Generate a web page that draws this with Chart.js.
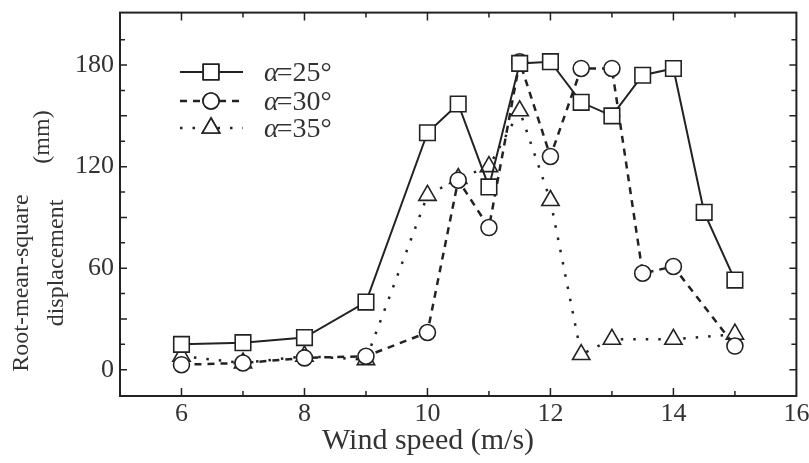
<!DOCTYPE html>
<html>
<head>
<meta charset="utf-8">
<script src="https://cdn.jsdelivr.net/npm/chart.js@4/dist/chart.umd.min.js"></script>
<style>
html, body { margin: 0; padding: 0; background: #fff; }
#wrap { width: 809px; height: 463px; }
</style>
</head>
<body>
<div id="wrap"><canvas id="chart" width="809" height="463"></canvas></div>
<script>
// values
var speed25 = [6, 7, 8, 9, 10, 10.5, 11, 11.5, 12, 12.5, 13, 13.5, 14, 14.5, 15];
var disp25  = [15, 16, 19, 40, 140, 157, 108, 181, 182, 158, 150, 174, 178, 93, 53];

var speed30 = [6, 7, 8, 9, 10, 10.5, 11, 11.5, 12, 12.5, 13, 13.5, 14, 15];
var disp30  = [3, 4, 7, 8, 22, 112, 84, 182, 126, 178, 178, 57, 61, 14];

var speed35 = [6, 7, 8, 9, 10, 10.5, 11, 11.5, 12, 12.5, 13, 14, 15];
var disp35  = [8, 4, 8, 6, 103, 113, 120, 153, 100, 9, 18, 18, 21];

var xTicks = [6, 8, 10, 12, 14, 16];
var yTicks = [0, 60, 120, 180];
var legendLabels = ["=25°", "=30°", "=35°"];

var ink = "#222";
var serif = "'Liberation Serif', 'DejaVu Serif', serif";

function pairs(xs, ys) {
	return xs.map(function(x, i) { return { x: x, y: ys[i] }; });
}

// frame, inward ticks, legend and the axis titles
var decor = {
	id: "decor",
	afterDraw: function(chart) {
		var ctx = chart.ctx;
		var a = chart.chartArea;
		var xs = chart.scales.x, ys = chart.scales.y;
		ctx.save();
		ctx.strokeStyle = ink;
		ctx.lineWidth = 2;
		ctx.strokeRect(a.left, a.top, a.right - a.left, a.bottom - a.top);

		ctx.lineWidth = 1.5;
		for (var v = 6; v <= 15; v++) {
			var px = xs.getPixelForValue(v);
			var len = (v % 2 == 0) ? 8 : 5;
			ctx.beginPath();
			ctx.moveTo(px, a.bottom); ctx.lineTo(px, a.bottom - len);
			ctx.moveTo(px, a.top); ctx.lineTo(px, a.top + len);
			ctx.stroke();
		}
		for (var w = 0; w <= 195; w += 15) {
			var py = ys.getPixelForValue(w);
			var l2 = (w % 30 == 0) ? 7 : 5;
			ctx.beginPath();
			ctx.moveTo(a.left, py); ctx.lineTo(a.left + l2, py);
			ctx.moveTo(a.right, py); ctx.lineTo(a.right - l2, py);
			ctx.stroke();
		}

		// legend
		var rows = [72, 101, 128];
		chart.data.datasets.forEach(function(ds, i) {
			var y = rows[i];
			ctx.strokeStyle = ink;
			ctx.lineWidth = ds.borderWidth;
			ctx.setLineDash(ds.borderDash || []);
			ctx.beginPath();
			ctx.moveTo(180, y); ctx.lineTo(243, y);
			ctx.stroke();
			ctx.setLineDash([]);
			ctx.fillStyle = "#fff";
			ctx.lineWidth = ds.pointBorderWidth;
			Chart.helpers.drawPoint(ctx, { pointStyle: ds.pointStyle, radius: ds.pointRadius, rotation: 0, borderWidth: ds.pointBorderWidth }, 211, y);
			ctx.fill();
			ctx.stroke();

			ctx.fillStyle = "#333";
			ctx.textBaseline = "middle";
			ctx.textAlign = "left";
			ctx.font = "italic 28px " + serif;
			ctx.fillText("α", 264, y + 2);
			var aw = ctx.measureText("α").width;
			ctx.font = "28px " + serif;
			ctx.fillText(legendLabels[i], 264 + aw - 2, y + 2);
		});

		// x title
		ctx.fillStyle = "#333";
		ctx.textAlign = "center";
		ctx.textBaseline = "middle";
		ctx.font = "30px " + serif;
		ctx.fillText("Wind speed (m/s)", 428, 441);

		// y title
		ctx.font = "24px " + serif;
		[["Root-mean-square", 22, 283], ["displacement", 57, 263], ["(mm)", 43, 137]].forEach(function(t) {
			ctx.save();
			ctx.translate(t[1], t[2]);
			ctx.rotate(-Math.PI / 2);
			ctx.fillText(t[0], 0, 0);
			ctx.restore();
		});
		ctx.restore();
	}
};

var chart = new Chart(document.getElementById("chart"), {
	type: "line",
	data: {
		datasets: [
			{
				data: pairs(speed25, disp25),
				borderColor: ink,
				borderWidth: 2,
				pointStyle: "rect",
				pointRadius: 11,
				pointBorderWidth: 1.6,
				pointBorderColor: ink,
				pointBackgroundColor: "#fff"
			},
			{
				data: pairs(speed30, disp30),
				borderColor: ink,
				borderWidth: 2.5,
				borderDash: [7, 6],
				pointStyle: "circle",
				pointRadius: 8,
				pointBorderWidth: 1.6,
				pointBorderColor: ink,
				pointBackgroundColor: "#fff"
			},
			{
				data: pairs(speed35, disp35),
				borderColor: ink,
				borderWidth: 2.5,
				borderDash: [2.5, 10],
				pointStyle: "triangle",
				pointRadius: 10,
				pointBorderWidth: 1.6,
				pointBorderColor: ink,
				pointBackgroundColor: "#fff"
			}
		]
	},
	options: {
		responsive: false,
		animation: false,
		layout: { padding: { top: 9, right: 10, left: 0, bottom: 0 } },
		plugins: {
			legend: { display: false },
			tooltip: { enabled: false }
		},
		scales: {
			x: {
				type: "linear",
				min: 5,
				max: 16,
				grid: { display: false, drawTicks: false },
				border: { display: false },
				afterBuildTicks: function(scale) {
					scale.ticks = xTicks.map(function(v) { return { value: v }; });
				},
				afterFit: function(scale) {
					scale.height = 67;
					scale.paddingLeft = 0;
					scale.paddingRight = 0;
				},
				ticks: {
					color: "#333",
					padding: 3,
					maxRotation: 0,
					font: { family: serif, size: 26 }
				}
			},
			y: {
				min: -15.5,
				max: 211,
				grid: { display: false, drawTicks: false },
				border: { display: false },
				afterBuildTicks: function(scale) {
					scale.ticks = yTicks.map(function(v) { return { value: v }; });
				},
				afterFit: function(scale) {
					scale.width = 120;
					scale.paddingTop = 0;
					scale.paddingBottom = 0;
				},
				ticks: {
					color: "#333",
					padding: 6,
					font: { family: serif, size: 26 }
				}
			}
		}
	},
	plugins: [decor]
});
</script>
</body>
</html>
